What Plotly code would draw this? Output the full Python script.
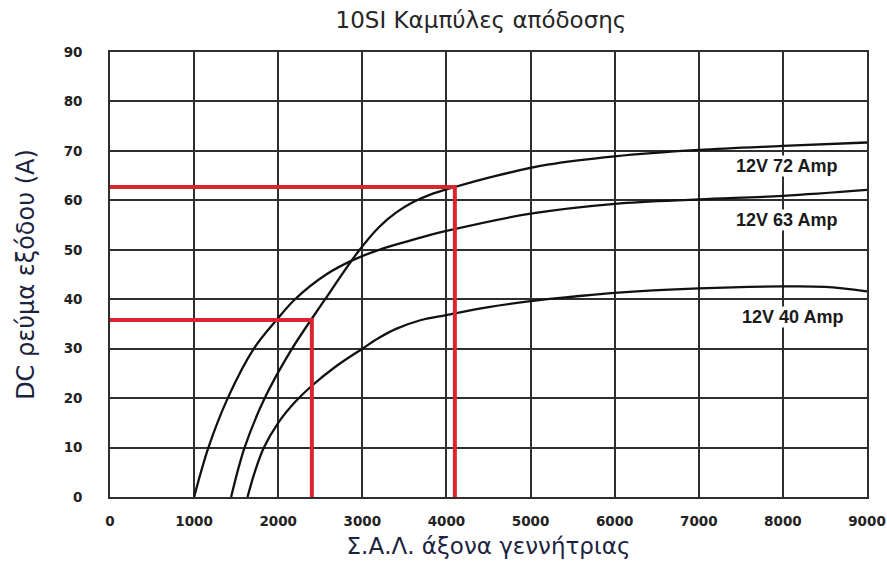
import plotly.graph_objects as go

# --- data ---
rpm_72 = [1440, 1600, 1840, 2150, 2550, 2950, 3200, 3400, 3600, 3800, 4100, 4600, 5200, 6000, 7000, 8000, 9000]
amp_72 = [0, 10, 20, 29.6, 39.8, 49.6, 54.6, 57.5, 59.6, 61.1, 62.7, 65.0, 67.2, 68.9, 70.2, 71.0, 71.7]

rpm_63 = [1000, 1170, 1400, 1710, 1980, 2200, 2570, 2900, 3250, 3640, 4000, 5000, 6000, 7000, 8000, 9000]
amp_63 = [0, 10, 20, 30, 35.8, 40, 45, 48, 50.3, 52.2, 53.8, 57.3, 59.3, 60.2, 60.9, 62.1]

rpm_40 = [1635, 1720, 1830, 2000, 2200, 2400, 2700, 3000, 3200, 3400, 3700, 4000, 4500, 5000, 5500, 6000, 7000, 8000, 8500, 9000]
amp_40 = [0, 5, 10, 15, 19.2, 22.5, 26.6, 30, 32.2, 34.0, 35.8, 36.8, 38.4, 39.6, 40.5, 41.3, 42.2, 42.6, 42.5, 41.6]

red_a_rpm = [0, 4100, 4100]
red_a_amp = [62.7, 62.7, -0.6]
red_b_rpm = [0, 2400, 2400]
red_b_amp = [35.8, 35.8, -2.6]

curve_labels = ["12V 72 Amp", "12V 63 Amp", "12V 40 Amp"]
label_rpm = [8040, 8040, 8110]
label_amp = [67.0, 56.0, 36.4]

x_ticks = [0, 1000, 2000, 3000, 4000, 5000, 6000, 7000, 8000, 9000]
y_ticks = [0, 10, 20, 30, 40, 50, 60, 70, 80, 90]

fig = go.Figure()
for xs, ys in [(rpm_72, amp_72), (rpm_63, amp_63), (rpm_40, amp_40)]:
    fig.add_trace(go.Scatter(x=xs, y=ys, mode="lines",
                             line=dict(color="#111111", width=2.3, shape="spline", smoothing=1.0),
                             hoverinfo="skip", showlegend=False))
for xs, ys in [(red_a_rpm, red_a_amp), (red_b_rpm, red_b_amp)]:
    fig.add_trace(go.Scatter(x=xs, y=ys, mode="lines", cliponaxis=False,
                             line=dict(color="#d7262e", width=4),
                             hoverinfo="skip", showlegend=False))

for t, xv, yv in zip(curve_labels, label_rpm, label_amp):
    fig.add_annotation(x=xv, y=yv, text=t, showarrow=False, borderpad=0,
                       font=dict(family="Liberation Sans", size=18, color="#1a1a1a", weight="bold"),
                       bgcolor="white")

tick_font = dict(family="DejaVu Sans", size=13.5, color="#222222", weight="bold")

fig.update_layout(
    width=887, height=571,
    margin=dict(l=110, r=20, t=52, b=74),
    paper_bgcolor="white", plot_bgcolor="white",
    title=dict(text="10SI Καμπύλες απόδοσης", xref="paper", x=0.49, xanchor="center",
               yref="container", y=0.965, yanchor="middle",
               font=dict(family="DejaVu Sans", size=23, color="#262626")),
    xaxis=dict(range=[0, 9000], tickvals=x_ticks, ticktext=[str(v) for v in x_ticks],
               showgrid=True, gridcolor="#2e2e2e", gridwidth=1.6,
               showline=True, linecolor="#2e2e2e", linewidth=1.6, mirror=True,
               zeroline=False, ticks="", ticklabelstandoff=11, automargin=False,
               ticklabeloverflow="allow", tickfont=tick_font,
               title=dict(text="Σ.Α.Λ. άξονα γεννήτριας", standoff=10,
                          font=dict(family="DejaVu Sans", size=23, color="#1c2340"))),
    yaxis=dict(range=[0, 90], tickvals=y_ticks, ticktext=[str(v) for v in y_ticks],
               showgrid=True, gridcolor="#2e2e2e", gridwidth=1.6,
               showline=True, linecolor="#2e2e2e", linewidth=1.6, mirror=True,
               zeroline=False, ticks="", ticklabelstandoff=23, automargin=False,
               ticklabeloverflow="allow", tickfont=tick_font,
               title=dict(text="DC ρεύμα εξόδου (A)", standoff=22,
                          font=dict(family="DejaVu Sans", size=24, color="#1c2340"))),
)

fig.write_html("out.html")
